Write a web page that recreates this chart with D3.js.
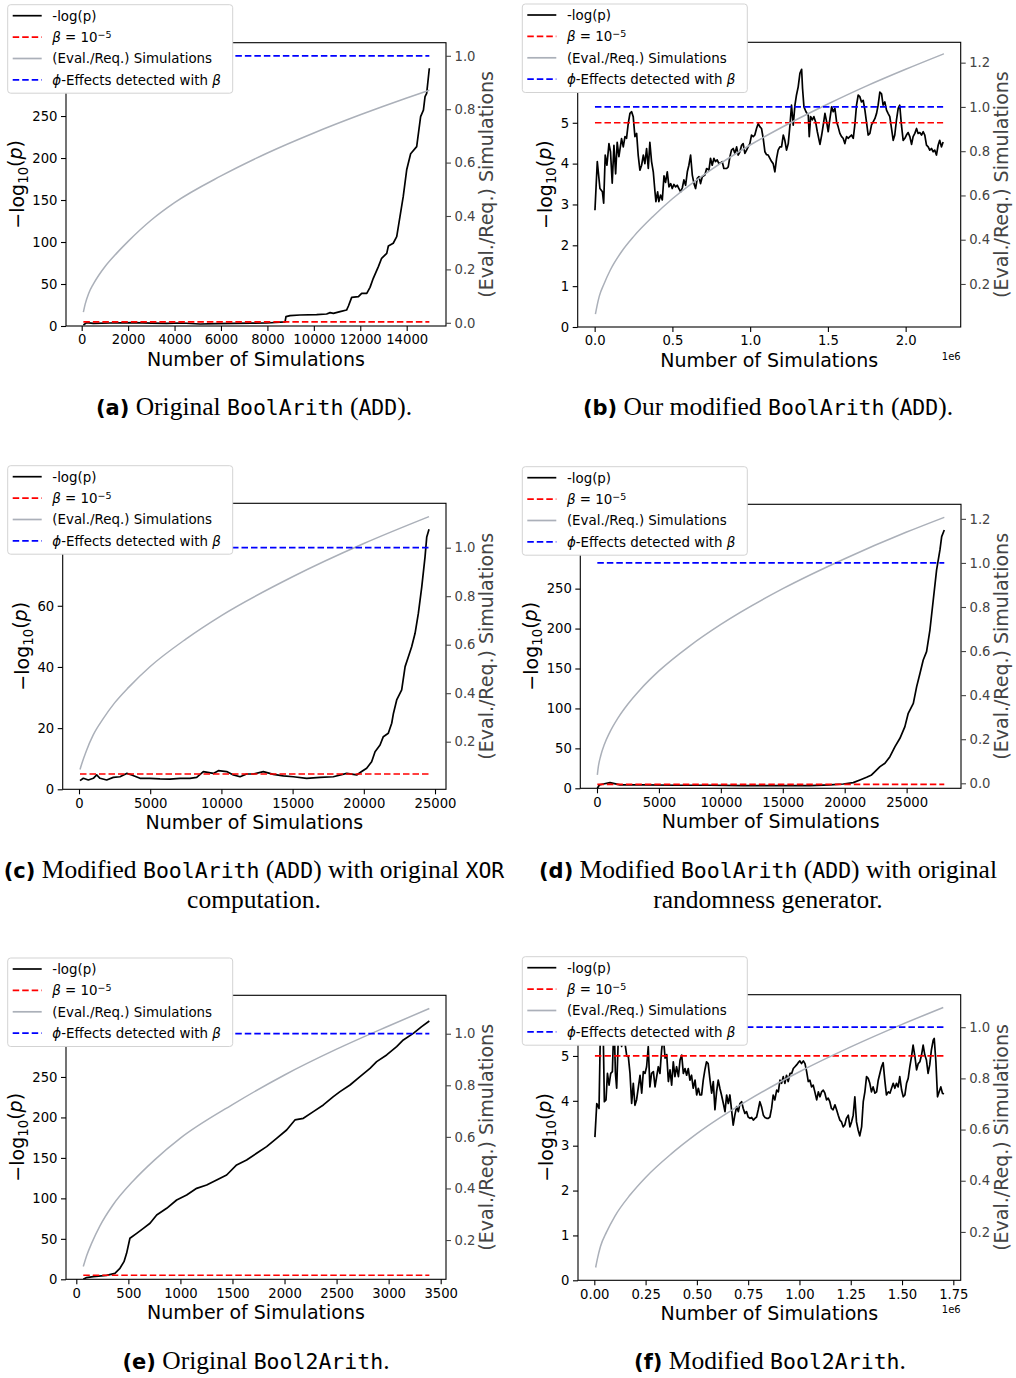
<!DOCTYPE html>
<html>
<head>
<meta charset="utf-8">
<script src="https://cdn.jsdelivr.net/npm/d3@7"></script>
<style>
  body { margin: 0; background: #fff; }
  svg { display: block; background: #fff; }
  text { white-space: pre; }
</style>
</head>
<body>
<svg id="svg"></svg>
<script>
// ---- values ----
// (a) Original BoolArith (ADD)
const aSims = [72,215,500,1200,2226,3000,3660,4300,5100,5800,6530,7300,7970,8760,8800,8975,9400,10120,10550,10700,10840,11130,11410,11490,11630,11920,12060,12280,12420,12560,12780,12920,13140,13210,13420,13570,13710,13850,14000,14170,14430,14600,14720,14790,14860,14975];
const aNegLogP = [1.2,4,3.2,3.6,4,3.4,3.2,3.6,2.4,2.8,3.2,3.4,3.6,4.8,11.1,12.3,13.1,13.5,14.3,15.9,15.1,17.1,19,23.8,34.1,34.9,38.9,38.9,46,56.8,70.7,80.6,86.5,95.3,98.5,106.4,130.2,154,186,205,213.6,249.3,257,273,277,306.9];
const aRatioSims = [72,150,300,500,750,1000,1500,2000,3000,4000,6000,8000,10000,12000,14000,14975];
const aRatio = [0.04,0.07,0.11,0.145,0.18,0.21,0.26,0.305,0.385,0.45,0.55,0.636,0.711,0.779,0.842,0.871];

// (b) Our modified BoolArith (ADD) -- simulations in units of 1e6
const bSims = [0.002,0.017,0.034,0.050,0.058,0.068,0.079,0.092,0.102,0.113,0.124,0.135,0.145,0.156,0.173,0.184,0.195,0.205,0.216,0.227,0.238,0.248,0.259,0.270,0.280,0.291,0.302,0.313,0.323,0.334,0.345,0.355,0.366,0.377,0.388,0.394,0.405,0.413,0.424,0.435,0.446,0.456,0.467,0.478,0.489,0.499,0.510,0.521,0.531,0.542,0.553,0.564,0.574,0.585,0.596,0.606,0.617,0.628,0.639,0.649,0.660,0.671,0.681,0.692,0.709,0.720,0.735,0.745,0.756,0.767,0.777,0.788,0.799,0.810,0.820,0.831,0.849,0.859,0.870,0.880,0.891,0.902,0.913,0.923,0.934,0.945,0.955,0.966,0.977,0.987,0.998,1.009,1.020,1.030,1.041,1.052,1.063,1.073,1.084,1.095,1.105,1.116,1.127,1.138,1.148,1.159,1.170,1.180,1.191,1.202,1.213,1.223,1.234,1.245,1.256,1.266,1.277,1.288,1.298,1.309,1.320,1.331,1.337,1.346,1.359,1.374,1.380,1.389,1.400,1.410,1.421,1.432,1.449,1.460,1.470,1.481,1.492,1.502,1.513,1.524,1.534,1.545,1.556,1.566,1.577,1.588,1.598,1.609,1.620,1.630,1.641,1.652,1.663,1.673,1.684,1.695,1.705,1.716,1.727,1.738,1.748,1.759,1.770,1.780,1.791,1.802,1.813,1.823,1.834,1.845,1.855,1.866,1.877,1.887,1.898,1.909,1.920,1.930,1.941,1.952,1.962,1.973,1.984,1.995,2.005,2.016,2.027,2.038,2.048,2.059,2.070,2.080,2.091,2.102,2.113,2.123,2.134,2.145,2.155,2.166,2.177,2.187,2.198,2.209,2.219,2.230,2.241];
const bNegLogP = [2.86,4.05,3.39,3.31,3.03,4.21,3.96,4.49,4.29,3.52,4.45,3.75,4.52,4.17,4.61,4.41,4.66,4.62,4.98,5.23,5.27,5.15,4.66,4.74,4.21,3.84,3.96,4.21,4.00,4.37,3.88,4.52,4.05,3.80,3.31,3.07,3.31,3.07,3.23,3.11,3.70,3.54,3.80,3.43,3.51,3.39,3.49,3.43,3.47,3.39,3.31,3.41,3.60,3.47,3.80,3.96,4.21,3.72,3.51,3.39,3.64,3.68,3.51,3.68,3.72,3.88,3.84,4.13,3.96,4.13,4.05,4.09,4.00,4.02,4.05,3.88,3.88,3.92,4.17,4.33,4.37,4.25,4.41,4.21,4.29,4.45,4.49,4.25,4.33,4.41,4.49,4.70,4.66,4.70,4.86,4.98,4.90,4.86,4.62,4.29,4.22,4.21,4.13,4.05,4.00,3.80,4.13,4.33,4.41,4.41,4.70,4.57,4.33,4.49,4.94,5.43,4.94,5.43,5.68,5.88,6.21,6.31,5.84,5.39,5.27,5.18,4.66,5.15,5.07,5.15,5.02,4.78,4.47,4.70,4.94,5.23,5.02,4.78,5.10,5.39,5.27,5.35,5.02,4.90,4.74,4.66,4.62,4.49,4.66,4.62,4.66,4.70,4.62,4.94,5.43,5.68,5.64,5.51,5.55,5.31,5.02,4.70,4.74,4.94,5.02,5.10,5.23,5.43,5.75,5.71,5.43,5.51,5.31,5.23,5.15,4.86,4.57,4.70,5.07,5.35,5.43,4.94,4.57,4.62,4.70,4.76,4.66,4.47,4.66,4.74,4.86,4.74,4.76,4.70,4.78,4.70,4.45,4.41,4.33,4.37,4.29,4.33,4.21,4.45,4.57,4.41,4.53];
const bRatioSims = [0.005,0.015,0.03,0.06,0.1,0.175,0.25,0.375,0.5,0.75,1.0,1.25,1.5,1.75,2.0,2.246];
const bRatio = [0.064,0.1,0.145,0.2,0.262,0.348,0.414,0.505,0.585,0.717,0.828,0.925,1.013,1.095,1.17,1.24];

// (c) Modified BoolArith (ADD) with original XOR computation
const cSims = [70,304,655,1007,1240,1475,1943,2411,2880,3348,3700,4284,4986,5690,6390,7093,7795,8264,8732,9434,9785,10370,10840,11310,11775,12240,12945,13650,14350,15050,15990,16925,17860,18800,19500,19850,20200,20550,20790,21140,21370,21720,21960,22080,22310,22660,22900,23130,23360,23600,23830,24070,24300,24420,24580];
const cNegLogP = [2.83,3.6,3.05,3.6,4.7,3.6,3.05,3.9,4.1,5.2,4.7,3.6,3.6,3.4,3.3,3.6,3.6,3.9,5.8,5.2,6.1,5.8,4.7,4.1,5.0,5.0,5.8,4.9,4.4,4.1,3.6,3.9,4.1,5.2,4.7,5.8,6.9,9.0,12.3,14.5,17.2,18.3,21.6,24.8,29.2,32.5,40.1,43.3,46.6,51.0,57.5,66.2,76.0,82.5,85.0];
const cRatioSims = [70,200,500,1000,1700,2500,3500,5000,7500,10000,15000,20000,24580];
const cRatio = [0.085,0.11,0.16,0.228,0.295,0.36,0.425,0.51,0.623,0.72,0.88,1.017,1.128];

// (d) Modified BoolArith (ADD) with original randomness generator
const dSims = [27,190,510,1050,1860,3740,6430,9120,11810,14500,17200,18810,19890,20690,21230,21770,22170,22440,22850,23250,23650,24060,24460,24860,25130,25540,25810,26080,26340,26610,26880,27150,27420,27690,27830,28040];
const dNegLogP = [0,4.2,5.4,7.1,4.2,4.2,3.8,3.8,3.3,3.3,3.3,4.2,5.4,7.1,10.4,13.8,16.7,20.9,27.1,31.3,39.6,52.2,62.6,77.2,93.9,106.4,127.3,144,160.7,171.1,198.2,235.8,273.4,298.4,315.1,323.4];
const dRatioSims = [27,100,300,600,1000,1700,2500,3500,5000,7500,10000,15000,20000,25000,28040];
const dRatio = [0.038,0.072,0.125,0.177,0.228,0.297,0.36,0.426,0.51,0.624,0.721,0.883,1.019,1.14,1.207];

// (e) Original Bool2Arith
const eSims = [67,99,163,291,371,419,458,483,515,580,644,708,772,868,964,1060,1156,1252,1348,1444,1540,1636,1732,1828,1924,2020,2100,2181,2277,2373,2469,2533,2629,2725,2821,2885,2981,3077,3141,3237,3317,3391];
const eNegLogP = [0,2.1,3.3,4.9,7.4,13.6,21.8,32.1,50.7,56.8,63,69.2,79.5,87.7,98,104.2,112.4,116.6,122.7,128.9,141.3,147.4,155.7,163.9,174.2,184.5,196.9,198.9,207.2,215.4,225.7,231.9,240.1,250.4,260.7,268.9,277.2,287.5,295.7,303.9,312.2,319.2];
const eRatioSims = [67,100,150,227,350,548,750,1000,1500,2000,2500,3000,3391];
const eRatio = [0.097,0.14,0.19,0.255,0.335,0.43,0.51,0.595,0.725,0.84,0.94,1.03,1.098];

// (f) Modified Bool2Arith -- simulations in units of 1e6
const fSims = [0.003,0.012,0.023,0.031,0.044,0.049,0.057,0.064,0.072,0.080,0.088,0.096,0.103,0.109,0.117,0.125,0.133,0.141,0.149,0.158,0.166,0.174,0.182,0.190,0.198,0.206,0.215,0.223,0.231,0.239,0.247,0.255,0.263,0.271,0.279,0.288,0.296,0.304,0.312,0.320,0.328,0.336,0.345,0.353,0.361,0.369,0.377,0.385,0.393,0.401,0.410,0.418,0.426,0.434,0.442,0.450,0.458,0.466,0.474,0.482,0.491,0.499,0.507,0.515,0.523,0.531,0.539,0.547,0.555,0.564,0.572,0.580,0.588,0.596,0.604,0.612,0.620,0.629,0.637,0.645,0.653,0.661,0.669,0.677,0.685,0.694,0.702,0.710,0.718,0.726,0.734,0.742,0.750,0.759,0.767,0.775,0.783,0.791,0.799,0.807,0.815,0.824,0.832,0.840,0.848,0.856,0.864,0.872,0.880,0.889,0.897,0.905,0.913,0.921,0.929,0.937,0.945,0.954,0.962,0.970,0.978,0.986,0.994,1.002,1.010,1.019,1.027,1.035,1.043,1.051,1.059,1.067,1.075,1.084,1.092,1.100,1.108,1.116,1.124,1.132,1.140,1.148,1.156,1.164,1.173,1.181,1.189,1.197,1.205,1.213,1.221,1.229,1.238,1.246,1.254,1.262,1.270,1.278,1.286,1.294,1.303,1.311,1.319,1.327,1.335,1.343,1.351,1.359,1.368,1.376,1.384,1.392,1.400,1.408,1.416,1.424,1.433,1.441,1.449,1.457,1.465,1.473,1.481,1.489,1.498,1.506,1.514,1.522,1.530,1.538,1.546,1.554,1.563,1.571,1.579,1.587,1.595,1.603,1.611,1.619,1.627,1.635,1.643,1.652,1.657,1.665,1.673,1.681,1.689,1.697,1.704];
const fNegLogP = [3.19,3.94,3.83,5.9,5.35,3.98,4.02,4.61,4.35,4.61,4.65,5.8,4.61,4.28,5.4,5.9,5.21,5.4,5.3,5.0,4.98,4.61,3.94,4.39,3.90,4.02,4.31,4.57,4.17,4.65,4.61,4.76,5.21,4.31,4.61,4.65,4.31,4.54,4.76,4.61,5.13,5.45,4.95,5.03,4.43,4.69,4.35,4.87,4.54,4.76,4.54,4.91,5.02,4.61,4.72,4.57,4.72,4.46,4.57,4.28,4.46,4.13,4.28,4.13,4.13,4.46,4.69,4.87,4.83,4.46,4.17,4.43,3.80,4.20,4.46,4.28,4.13,3.94,3.76,4.13,3.94,4.13,3.80,3.46,3.68,3.87,3.76,3.94,3.98,3.83,3.72,3.76,3.64,3.61,3.63,3.57,3.61,3.64,3.80,3.98,3.87,3.68,3.63,3.61,3.61,3.64,3.83,4.13,4.02,4.24,4.20,4.46,4.39,4.54,4.39,4.57,4.43,4.61,4.61,4.72,4.76,4.80,4.85,4.89,4.83,4.89,4.83,4.65,4.43,4.46,4.31,4.35,4.20,4.02,4.20,4.09,4.20,4.24,4.17,4.02,4.06,3.98,3.83,3.80,3.91,3.80,3.68,3.57,3.53,3.42,3.46,3.61,3.68,3.42,3.53,3.68,4.09,3.53,3.35,3.22,3.42,3.98,4.20,4.54,4.50,4.39,4.20,4.31,4.17,4.20,4.46,4.61,4.76,4.85,4.46,4.13,4.20,4.17,4.28,4.39,4.28,4.39,4.31,4.54,4.24,4.09,4.13,4.39,4.50,4.76,4.98,5.24,4.98,4.69,4.83,4.87,5.02,5.24,5.02,4.91,4.61,4.80,5.13,5.35,5.39,4.87,4.09,4.20,4.31,4.17,4.15];
const fRatioSims = [0.0065,0.015,0.03,0.06,0.1,0.175,0.25,0.375,0.5,0.75,1.0,1.25,1.5,1.701];
const fRatio = [0.061,0.095,0.143,0.2,0.261,0.345,0.413,0.505,0.584,0.715,0.826,0.923,1.011,1.077];

// thresholds: beta = 1e-5 (so -log10 = 5), and one detected effect
const betaLevel = 5;
const effectsLevel = 1.0;

// tick values per panel (the ones the legend hides are left out)
const aXTicks = [0,2000,4000,6000,8000,10000,12000,14000], aYTicks = [0,50,100,150,200,250], aRTicks = [0,0.2,0.4,0.6,0.8,1.0];
const bXTicks = [0,0.5,1.0,1.5,2.0], bYTicks = [0,1,2,3,4,5], bRTicks = [0.2,0.4,0.6,0.8,1.0,1.2];
const cXTicks = [0,5000,10000,15000,20000,25000], cYTicks = [0,20,40,60], cRTicks = [0.2,0.4,0.6,0.8,1.0];
const dXTicks = [0,5000,10000,15000,20000,25000], dYTicks = [0,50,100,150,200,250], dRTicks = [0,0.2,0.4,0.6,0.8,1.0,1.2];
const eXTicks = [0,500,1000,1500,2000,2500,3000,3500], eYTicks = [0,50,100,150,200,250], eRTicks = [0.2,0.4,0.6,0.8,1.0];
const fXTicks = [0,0.25,0.5,0.75,1.0,1.25,1.5,1.75], fYTicks = [0,1,2,3,4,5], fRTicks = [0.2,0.4,0.6,0.8,1.0];

// captions (text only)
const captionA = [[["b","(a)"],["s"," Original "],["m","BoolArith"],["s"," ("],["m","ADD"],["s",")."]]];
const captionB = [[["b","(b)"],["s"," Our modified "],["m","BoolArith"],["s"," ("],["m","ADD"],["s",")."]]];
const captionC = [[["b","(c)"],["s"," Modified "],["m","BoolArith"],["s"," ("],["m","ADD"],["s",") with original "],["m","XOR"]],[["s","computation."]]];
const captionD = [[["b","(d)"],["s"," Modified "],["m","BoolArith"],["s"," ("],["m","ADD"],["s",") with original"]],[["s","randomness generator."]]];
const captionE = [[["b","(e)"],["s"," Original "],["m","Bool2Arith"],["s","."]]];
const captionF = [[["b","(f)"],["s"," Modified "],["m","Bool2Arith"],["s","."]]];

// ---- drawing ----
const width = 1016;
const height = 1378;
const FONT = "DejaVu Sans";
const GREY = "#abb0b9";
const RIGHT_COL = "#444";

let svg = d3.select("#svg").attr("width", width).attr("height", height);

const panels = [
    { sims: aSims, logp: aNegLogP, rSims: aRatioSims, ratio: aRatio, xt: aXTicks, yt: aYTicks, rt: aRTicks,
      l: 66, r: 446, t: 42.7, b: 326, xDom: [-676, 15693], yDom: [0, 337.3], rDom: [-0.012, 1.049],
      xFmt: d3.format("d"), yFmt: d3.format("d"), offset: null, legend: [7.7, 4.7], caption: captionA, cx: 254, cy: 415 },
    { sims: bSims, logp: bNegLogP, rSims: bRatioSims, ratio: bRatio, xt: bXTicks, yt: bYTicks, rt: bRTicks,
      l: 577.7, r: 960.7, t: 42.3, b: 327, xDom: [-0.109, 2.354], yDom: [0, 6.97], rDom: [0.0056, 1.292],
      xFmt: d3.format(".1f"), yFmt: d3.format("d"), offset: "1e6", legend: [522.3, 4], caption: captionB, cx: 768, cy: 415 },
    { sims: cSims, logp: cNegLogP, rSims: cRatioSims, ratio: cRatio, xt: cXTicks, yt: cYTicks, rt: cRTicks,
      l: 62.7, r: 446, t: 503.3, b: 789.3, xDom: [-1145, 25772], yDom: [0, 93.5], rDom: [0.0037, 1.183],
      xFmt: d3.format("d"), yFmt: d3.format("d"), offset: null, legend: [7.7, 465.7], caption: captionC, cx: 254, cy: 878 },
    { sims: dSims, logp: dNegLogP, rSims: dRatioSims, ratio: dRatio, xt: dXTicks, yt: dYTicks, rt: dRTicks,
      l: 580.3, r: 961, t: 504.3, b: 788.3, xDom: [-1348, 29390], yDom: [0, 355.6], rDom: [-0.0227, 1.266],
      xFmt: d3.format("d"), yFmt: d3.format("d"), offset: null, legend: [522.3, 466.7], caption: captionD, cx: 768, cy: 878 },
    { sims: eSims, logp: eNegLogP, rSims: eRatioSims, ratio: eRatio, xt: eXTicks, yt: eYTicks, rt: eRTicks,
      l: 66, r: 446, t: 995.3, b: 1279.3, xDom: [-99, 3551], yDom: [0, 350.9], rDom: [0.0477, 1.149],
      xFmt: d3.format("d"), yFmt: d3.format("d"), offset: null, legend: [7.7, 958], caption: captionE, cx: 256, cy: 1369 },
    { sims: fSims, logp: fNegLogP, rSims: fRatioSims, ratio: fRatio, xt: fXTicks, yt: fYTicks, rt: fRTicks,
      l: 578, r: 960.7, t: 994.7, b: 1280.3, xDom: [-0.0795, 1.786], yDom: [0, 6.365], rDom: [0.011, 1.127],
      xFmt: d3.format(".2f"), yFmt: d3.format("d"), offset: "1e6", legend: [522.3, 956.7], caption: captionF, cx: 770, cy: 1369 }
];

const legendItems = [
    { color: "#000", dash: false, parts: [["-log(p)"]] },
    { color: "#ff0000", dash: true, parts: [["β", "i"], [" = 10"], ["−5", "sup"]] },
    { color: GREY, dash: false, parts: [["(Eval./Req.) Simulations"]] },
    { color: "#0000ff", dash: true, parts: [["ϕ", "i"], ["-Effects detected with "], ["β", "i"]] }
];

function styleAxis(g, color) {
    g.select(".domain").remove();
    g.selectAll(".tick line").attr("stroke", color).attr("stroke-width", 1.1);
    g.selectAll(".tick text")
        .attr("fill", color)
        .style("font-family", FONT)
        .style("font-size", "13.2px");
}

function drawPanel(p, i) {
    let chart = svg.append("g").attr("class", "panel");

    let xScale = d3.scaleLinear().domain(p.xDom).range([p.l, p.r]);
    let yScale = d3.scaleLinear().domain(p.yDom).range([p.b, p.t]);
    let rScale = d3.scaleLinear().domain(p.rDom).range([p.b, p.t]);

    svg.append("clipPath").attr("id", "clip" + i)
        .append("rect")
        .attr("x", p.l).attr("y", p.t)
        .attr("width", p.r - p.l).attr("height", p.b - p.t);

    let plot = chart.append("g").attr("clip-path", "url(#clip" + i + ")");
    const x0 = p.sims[0];
    const x1 = p.sims[p.sims.length - 1];

    // -log10(p)
    const logLine = d3.line()
        .x((d, j) => xScale(p.sims[j]))
        .y(d => yScale(d));
    plot.append("path")
        .datum(p.logp)
        .attr("d", logLine)
        .attr("fill", "none")
        .attr("stroke", "#000")
        .attr("stroke-width", 1.7)
        .attr("stroke-linejoin", "round");

    // beta threshold
    plot.append("line")
        .attr("x1", xScale(x0)).attr("x2", xScale(x1))
        .attr("y1", yScale(betaLevel)).attr("y2", yScale(betaLevel))
        .attr("stroke", "#ff0000")
        .attr("stroke-width", 1.7)
        .attr("stroke-dasharray", "6.5,3");

    // evaluated / required simulations
    const ratioLine = d3.line()
        .x((d, j) => xScale(p.rSims[j]))
        .y(d => rScale(d))
        .curve(d3.curveMonotoneX);
    plot.append("path")
        .datum(p.ratio)
        .attr("d", ratioLine)
        .attr("fill", "none")
        .attr("stroke", GREY)
        .attr("stroke-width", 1.5);

    // effects detected
    plot.append("line")
        .attr("x1", xScale(x0)).attr("x2", xScale(x1))
        .attr("y1", rScale(effectsLevel)).attr("y2", rScale(effectsLevel))
        .attr("stroke", "#0000ff")
        .attr("stroke-width", 1.7)
        .attr("stroke-dasharray", "6.5,3");

    // frame
    chart.append("rect")
        .attr("x", p.l).attr("y", p.t)
        .attr("width", p.r - p.l).attr("height", p.b - p.t)
        .attr("fill", "none")
        .attr("stroke", "#000")
        .attr("stroke-width", 1.1);

    // axes
    let gx = chart.append("g")
        .attr("transform", `translate(0,${p.b})`)
        .call(d3.axisBottom(xScale).tickValues(p.xt).tickFormat(p.xFmt).tickSize(5).tickPadding(4));
    styleAxis(gx, "#000");

    let gy = chart.append("g")
        .attr("transform", `translate(${p.l},0)`)
        .call(d3.axisLeft(yScale).tickValues(p.yt).tickFormat(p.yFmt).tickSize(5).tickPadding(3.5));
    styleAxis(gy, "#000");

    let gr = chart.append("g")
        .attr("transform", `translate(${p.r},0)`)
        .call(d3.axisRight(rScale).tickValues(p.rt).tickFormat(d3.format(".1f")).tickSize(5).tickPadding(3.5));
    styleAxis(gr, RIGHT_COL);

    // x label
    chart.append("text")
        .attr("x", (p.l + p.r) / 2)
        .attr("y", p.b + 40)
        .attr("text-anchor", "middle")
        .style("font-family", FONT)
        .style("font-size", "19px")
        .text("Number of Simulations");

    if (p.offset) {
        chart.append("text")
            .attr("x", p.r)
            .attr("y", p.b + 33)
            .attr("text-anchor", "end")
            .style("font-family", FONT)
            .style("font-size", "10px")
            .text(p.offset);
    }

    // left y label: -log10(p)
    const lb = gy.node().getBBox();
    const lx = p.l + lb.x - 8.5;
    const cy = (p.t + p.b) / 2;
    let yl = chart.append("text")
        .attr("transform", `translate(${lx},${cy}) rotate(-90)`)
        .attr("text-anchor", "middle")
        .style("font-family", FONT)
        .style("font-size", "19px");
    yl.append("tspan").text("−log");
    yl.append("tspan").attr("dy", "0.28em").style("font-size", "13.3px").text("10");
    yl.append("tspan").attr("dy", "-0.28em").text("(");
    yl.append("tspan").style("font-style", "italic").text("p");
    yl.append("tspan").text(")");

    // right y label
    const rb = gr.node().getBBox();
    const rx = p.r + rb.x + rb.width + 18;
    chart.append("text")
        .attr("transform", `translate(${rx},${cy}) rotate(-90)`)
        .attr("text-anchor", "middle")
        .attr("fill", RIGHT_COL)
        .style("font-family", FONT)
        .style("font-size", "19px")
        .text("(Eval./Req.) Simulations");

    drawLegend(p.legend[0], p.legend[1]);
    drawCaption(p.caption, p.cx, p.cy);
}

function drawLegend(lx, ly) {
    const legend = svg.append("g")
        .attr("class", "legend")
        .attr("transform", `translate(${lx},${ly})`);

    legend.append("rect")
        .attr("width", 225)
        .attr("height", 88.5)
        .attr("rx", 3)
        .attr("fill", "#fff")
        .attr("stroke", "#d3d3d3")
        .attr("stroke-width", 1);

    const rows = legend.selectAll(".legend-item")
        .data(legendItems)
        .enter()
        .append("g")
        .attr("class", "legend-item")
        .attr("transform", (d, i) => `translate(0, ${11 + i * 21.4})`);

    rows.append("line")
        .attr("x1", 5).attr("x2", 34)
        .attr("stroke", d => d.color)
        .attr("stroke-width", 1.7)
        .attr("stroke-dasharray", d => d.dash ? "6.5,3" : null);

    rows.append("text")
        .attr("x", 44.6)
        .attr("dy", "0.36em")
        .style("font-family", FONT)
        .style("font-size", "13.4px")
        .each(function(d) {
            const t = d3.select(this);
            d.parts.forEach(([s, kind]) => {
                const sp = t.append("tspan").text(s);
                if (kind === "i") sp.style("font-style", "italic");
                if (kind === "sup") sp.attr("dy", "-0.45em").style("font-size", "9.5px");
            });
        });
}

function drawCaption(lines, cx, y0) {
    lines.forEach((line, i) => {
        const t = svg.append("text")
            .attr("x", cx)
            .attr("y", y0 + i * 30)
            .attr("text-anchor", "middle")
            .attr("fill", "#000");
        line.forEach(([kind, s]) => {
            const sp = t.append("tspan").text(s);
            if (kind === "b") sp.style("font-family", "DejaVu Sans").style("font-weight", "bold").style("font-size", "21px");
            if (kind === "s") sp.style("font-family", "Liberation Serif").style("font-size", "25.5px");
            if (kind === "m") sp.style("font-family", "DejaVu Sans Mono").style("font-size", "21.5px");
        });
    });
}

panels.forEach(drawPanel);
</script>
</body>
</html>
